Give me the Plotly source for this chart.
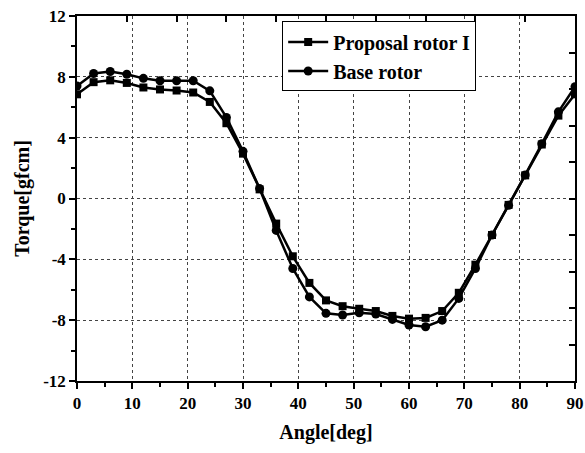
import plotly.graph_objects as go

angle = [0, 3, 6, 9, 12, 15, 18, 21, 24, 27, 30, 33, 36, 39, 42, 45,
         48, 51, 54, 57, 60, 63, 66, 69, 72, 75, 78, 81, 84, 87, 90]
proposal = [6.85, 7.65, 7.77, 7.6, 7.3, 7.17, 7.1, 6.97, 6.35, 4.95, 2.95, 0.6,
            -1.65, -3.8, -5.55, -6.7, -7.08, -7.25, -7.4, -7.72, -7.9, -7.85,
            -7.4, -6.2, -4.35, -2.4, -0.42, 1.52, 3.55, 5.45, 6.85]
base = [7.4, 8.22, 8.35, 8.17, 7.9, 7.74, 7.74, 7.74, 7.08, 5.33, 3.1, 0.65,
        -2.1, -4.6, -6.47, -7.55, -7.66, -7.52, -7.6, -7.95, -8.32, -8.43,
        -8.0, -6.57, -4.6, -2.4, -0.45, 1.55, 3.6, 5.7, 7.35]
x_ticks = [0, 10, 20, 30, 40, 50, 60, 70, 80, 90]
y_ticks = [-12, -8, -4, 0, 4, 8, 12]

font_family = "Liberation Serif"

fig = go.Figure()
fig.add_trace(go.Scatter(
    x=angle, y=proposal, mode="lines+markers", name="<b>Proposal rotor I</b>",
    line=dict(color="black", width=2.5),
    marker=dict(symbol="square", size=8, color="black")))
fig.add_trace(go.Scatter(
    x=angle, y=base, mode="lines+markers", name="<b>Base rotor</b>",
    line=dict(color="black", width=2.5),
    marker=dict(symbol="circle", size=9, color="black")))
# invisible trace to activate top/right axes
fig.add_trace(go.Scatter(x=[0, 90], y=[-12, 12], xaxis="x2", yaxis="y2",
                         mode="markers", marker=dict(opacity=0), showlegend=False,
                         hoverinfo="skip"))

tickfont = dict(family=font_family, size=17, color="black")

fig.update_layout(
    width=585, height=453,
    margin=dict(l=77, r=10, t=16, b=72, autoexpand=False),
    paper_bgcolor="white", plot_bgcolor="white",
    font=dict(family=font_family, color="black"),
    showlegend=True,
    legend=dict(x=0.412, y=0.985, xanchor="left", yanchor="top",
                bordercolor="black", borderwidth=1, bgcolor="white",
                font=dict(family=font_family, size=20, color="black"),
                tracegroupgap=0, itemwidth=40),
    xaxis=dict(range=[0, 90], tickmode="array", tickvals=x_ticks,
               ticktext=[f"<b>{v}</b>" for v in x_ticks], automargin=False,
               showline=True, linecolor="black", linewidth=1.5,
               ticks="outside", ticklen=6, tickwidth=1.5, tickcolor="black",
               minor=dict(dtick=5, tick0=0, ticks="outside", ticklen=4,
                          tickcolor="black", showgrid=False),
               showgrid=True, gridcolor="#444444", griddash="dot", gridwidth=1,
               zeroline=False,
               tickfont=tickfont,
               title=dict(text="<b>Angle[deg]</b>", standoff=13,
                          font=dict(family=font_family, size=20))),
    yaxis=dict(range=[-12, 12], tickmode="array", tickvals=y_ticks,
               ticktext=[f"<b>{v}</b>" for v in y_ticks], automargin=False,
               showline=True, linecolor="black", linewidth=1.5,
               ticks="outside", ticklen=6, tickwidth=1.5, tickcolor="black",
               minor=dict(dtick=2, tick0=0, ticks="outside", ticklen=4,
                          tickcolor="black", showgrid=False),
               showgrid=True, gridcolor="#444444", griddash="dot", gridwidth=1,
               zeroline=False,
               tickfont=tickfont,
               title=dict(text="<b>Torque[gfcm]</b>", standoff=8,
                          font=dict(family=font_family, size=20))),
    xaxis2=dict(overlaying="x", side="top", range=[0, 90], dtick=9, tick0=0,
                automargin=False,
                showline=True, linecolor="black", linewidth=1.5,
                ticks="inside", ticklen=6, tickwidth=1.5, tickcolor="black",
                showticklabels=False, showgrid=False, zeroline=False),
    yaxis2=dict(overlaying="y", side="right", range=[-12, 12], dtick=2.4, tick0=-12,
                automargin=False,
                showline=True, linecolor="black", linewidth=1.5,
                ticks="inside", ticklen=6, tickwidth=1.5, tickcolor="black",
                showticklabels=False, showgrid=False, zeroline=False),
)

fig.write_html("out.html")
